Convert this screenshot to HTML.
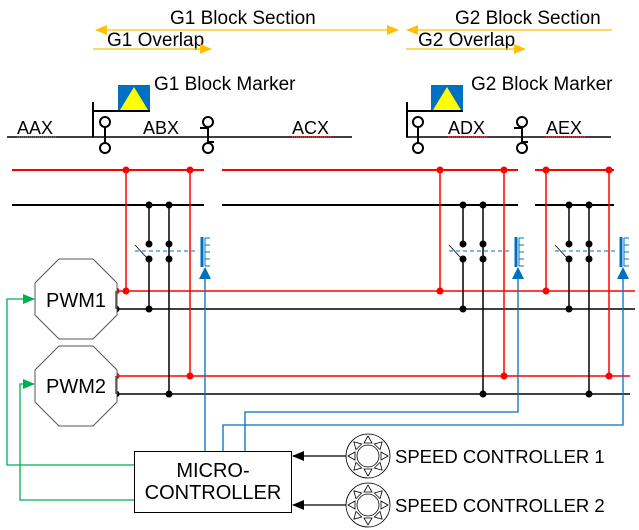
<!DOCTYPE html>
<html><head><meta charset="utf-8"><style>
html,body{margin:0;padding:0;background:#fff}
svg{display:block}
text{font-family:"Liberation Sans",Arial,sans-serif;fill:#000}
</style></head><body>
<svg width="639" height="530" viewBox="0 0 639 530" xmlns="http://www.w3.org/2000/svg">
<defs>
<marker id="ao" markerWidth="12" markerHeight="10" refX="11" refY="5" orient="auto-start-reverse" markerUnits="userSpaceOnUse"><path d="M0,0 L12,5 L0,10 Z" fill="#FFC000"/></marker>
<marker id="ag" markerWidth="12" markerHeight="10" refX="11" refY="5" orient="auto" markerUnits="userSpaceOnUse"><path d="M0,0 L12,5 L0,10 Z" fill="#00B050"/></marker>
<marker id="ab" markerWidth="12" markerHeight="12" refX="11" refY="6" orient="auto" markerUnits="userSpaceOnUse"><path d="M0,0 L12,6 L0,12 Z" fill="#0070C0"/></marker>
<marker id="ak" markerWidth="12" markerHeight="10" refX="11" refY="5" orient="auto" markerUnits="userSpaceOnUse"><path d="M0,0 L12,5 L0,10 Z" fill="#000"/></marker>
</defs>

<!-- Top arrows -->
<text x="170" y="24" font-size="19">G1 Block Section</text>
<line x1="96" y1="30" x2="398" y2="30" stroke="#FFC000" stroke-width="1.3" marker-start="url(#ao)" marker-end="url(#ao)"/>
<text x="107" y="46" font-size="19">G1 Overlap</text>
<line x1="93" y1="49" x2="211" y2="49" stroke="#FFC000" stroke-width="1.3" marker-end="url(#ao)"/>
<text x="455" y="24" font-size="19">G2 Block Section</text>
<line x1="407" y1="30" x2="612" y2="30" stroke="#FFC000" stroke-width="1.3" marker-start="url(#ao)"/>
<text x="418" y="46" font-size="19">G2 Overlap</text>
<line x1="406" y1="49" x2="525" y2="49" stroke="#FFC000" stroke-width="1.3" marker-end="url(#ao)"/>

<!-- markers -->
<text x="154" y="90" font-size="19">G1 Block Marker</text>
<text x="471" y="90" font-size="19">G2 Block Marker</text>
<rect x="118" y="85" width="32" height="26" fill="#0070C0"/>
<polygon points="134,87 120,110 148,110" fill="#FFFF00"/>
<rect x="431" y="85" width="32" height="26" fill="#0070C0"/>
<polygon points="447,87 433,110 461,110" fill="#FFFF00"/>

<!-- track -->
<line x1="7" y1="137" x2="352" y2="137" stroke="#000" stroke-width="1.5"/>
<line x1="406" y1="137" x2="611" y2="137" stroke="#000" stroke-width="1.5"/>
<g stroke="#000" stroke-width="2" fill="#fff">
<path d="M93,102 V137 M93,111 H150" fill="none"/>
<path d="M407,102 V137 M407,111 H463" fill="none"/>
<line x1="105" y1="127" x2="105" y2="143"/><circle cx="105" cy="122" r="5"/><circle cx="105" cy="148" r="5"/>
<line x1="418" y1="127" x2="418" y2="143"/><circle cx="418" cy="122" r="5"/><circle cx="418" cy="148" r="5"/>
<line x1="208" y1="127" x2="208" y2="143"/><circle cx="208" cy="122" r="5"/><circle cx="208" cy="148" r="5"/>
<path d="M200,128 H208 M208,142 H214" fill="none"/>
<line x1="522" y1="127" x2="522" y2="143"/><circle cx="522" cy="122" r="5"/><circle cx="522" cy="148" r="5"/>
<path d="M514,128 H522 M522,142 H528" fill="none"/>
</g>
<g font-size="18">
<text x="17" y="134">AAX</text><text x="143" y="134">ABX</text><text x="292" y="134">ACX</text><text x="448" y="134">ADX</text><text x="546" y="134">AEX</text>
</g>
<g stroke="#e00" stroke-width="1" stroke-dasharray="1,1">
<line x1="17" y1="137" x2="56" y2="137"/><line x1="292" y1="137" x2="332" y2="137"/>
<line x1="448" y1="137" x2="488" y2="137"/><line x1="546" y1="137" x2="585" y2="137"/>
</g>

<!-- rails -->
<g stroke="#FF0000" stroke-width="2">
<line x1="12" y1="170" x2="204" y2="170"/><line x1="222" y1="170" x2="518" y2="170"/><line x1="535" y1="170" x2="614" y2="170"/>
</g>
<g stroke="#000" stroke-width="2">
<line x1="12" y1="205" x2="204" y2="205"/><line x1="222" y1="205" x2="518" y2="205"/><line x1="535" y1="205" x2="614" y2="205"/>
</g>

<!-- PWM bus lines -->
<g stroke-width="1.5">
<line x1="116" y1="291" x2="635" y2="291" stroke="#FF0000"/>
<line x1="116" y1="309" x2="635" y2="309" stroke="#000"/>
<line x1="116" y1="376" x2="630" y2="376" stroke="#FF0000"/>
<line x1="116" y1="394" x2="630" y2="394" stroke="#000"/>
</g>

<!-- verticals -->
<g stroke="#FF0000" stroke-width="1.5">
<line x1="126" y1="170" x2="126" y2="291"/><line x1="190" y1="170" x2="190" y2="376"/>
<line x1="440" y1="170" x2="440" y2="291"/><line x1="504" y1="170" x2="504" y2="376"/>
<line x1="546" y1="170" x2="546" y2="291"/><line x1="609" y1="170" x2="609" y2="376"/>
</g>
<g stroke="#000" stroke-width="1.5">
<line x1="149" y1="205" x2="149" y2="244"/><line x1="149" y1="259" x2="149" y2="309"/>
<line x1="169" y1="205" x2="169" y2="394"/>
<line x1="463" y1="205" x2="463" y2="244"/><line x1="463" y1="259" x2="463" y2="309"/>
<line x1="483" y1="205" x2="483" y2="394"/>
<line x1="569" y1="205" x2="569" y2="244"/><line x1="569" y1="259" x2="569" y2="309"/>
<line x1="589" y1="205" x2="589" y2="394"/>
</g>
<g stroke="#000" stroke-width="0.8">
<line x1="135" y1="245" x2="147" y2="258"/><line x1="449" y1="245" x2="461" y2="258"/><line x1="555" y1="245" x2="567" y2="258"/>
</g>
<g stroke="#0070C0" stroke-width="1" stroke-dasharray="4,3">
<line x1="135" y1="251" x2="198" y2="251"/><line x1="449" y1="251" x2="511" y2="251"/><line x1="555" y1="251" x2="616" y2="251"/>
</g>
<!-- relays -->
<g stroke="#0070C0" fill="none">
<g id="rl"><line x1="202" y1="237" x2="202" y2="267" stroke-width="3"/>
<path d="M205,238 H210 M205,238 V266 M205,245 H210 M205,252 H210 M205,259 H210 M205,266 H210" stroke-width="1"/></g>
<use href="#rl" x="314"/><use href="#rl" x="419"/>
</g>
<g stroke="#0070C0" stroke-width="1.3" fill="none">
<line x1="205" y1="451" x2="205" y2="268" marker-end="url(#ab)"/>
<path d="M245,451 V412 H518 V268" marker-end="url(#ab)"/>
<path d="M223,451 V425 H623 V268" marker-end="url(#ab)"/>
</g>

<!-- dots -->
<g fill="#FF0000">
<circle cx="126" cy="170" r="3.5"/><circle cx="190" cy="170" r="3.5"/><circle cx="440" cy="170" r="3.5"/><circle cx="504" cy="170" r="3.5"/><circle cx="546" cy="170" r="3.5"/><circle cx="609" cy="170" r="3.5"/>
<circle cx="116" cy="291" r="3.5"/><circle cx="126" cy="291" r="3.5"/><circle cx="440" cy="291" r="3.5"/><circle cx="546" cy="291" r="3.5"/>
<circle cx="116" cy="376" r="3.5"/><circle cx="190" cy="376" r="3.5"/><circle cx="504" cy="376" r="3.5"/><circle cx="609" cy="376" r="3.5"/>
</g>
<g fill="#000">
<circle cx="149" cy="205" r="3.5"/><circle cx="169" cy="205" r="3.5"/><circle cx="463" cy="205" r="3.5"/><circle cx="483" cy="205" r="3.5"/><circle cx="569" cy="205" r="3.5"/><circle cx="589" cy="205" r="3.5"/>
<circle cx="149" cy="244" r="3.5"/><circle cx="169" cy="244" r="3.5"/><circle cx="149" cy="259" r="3.5"/><circle cx="169" cy="259" r="3.5"/>
<circle cx="463" cy="244" r="3.5"/><circle cx="483" cy="244" r="3.5"/><circle cx="463" cy="259" r="3.5"/><circle cx="483" cy="259" r="3.5"/>
<circle cx="569" cy="244" r="3.5"/><circle cx="589" cy="244" r="3.5"/><circle cx="569" cy="259" r="3.5"/><circle cx="589" cy="259" r="3.5"/>
<circle cx="116" cy="309" r="3.5"/><circle cx="149" cy="309" r="3.5"/><circle cx="463" cy="309" r="3.5"/><circle cx="569" cy="309" r="3.5"/>
<circle cx="116" cy="394" r="3.5"/><circle cx="169" cy="394" r="3.5"/><circle cx="483" cy="394" r="3.5"/><circle cx="589" cy="394" r="3.5"/>
</g>

<!-- PWM octagons -->
<polygon points="59,259 93,259 117,283 117,315 93,339 59,339 35,315 35,283" fill="#fff" stroke="#555" stroke-width="1"/>
<polygon points="59,346 93,346 117,370 117,402 93,426 59,426 35,402 35,370" fill="#fff" stroke="#555" stroke-width="1"/>
<text x="76" y="307" font-size="20" text-anchor="middle">PWM1</text>
<text x="76" y="393" font-size="20" text-anchor="middle">PWM2</text>
<line x1="116" y1="291" x2="116" y2="309" stroke="#555" stroke-width="1.5"/>
<line x1="116" y1="376" x2="116" y2="394" stroke="#555" stroke-width="1.5"/>

<!-- green -->
<g stroke="#00B050" stroke-width="1.3" fill="none">
<path d="M134,465 H7 V299 H34" marker-end="url(#ag)"/>
<path d="M134,500 H20 V384 H34" marker-end="url(#ag)"/>
</g>

<!-- MC -->
<rect x="134.5" y="451.5" width="157" height="61" fill="#fff" stroke="#000" stroke-width="1"/>
<text x="213" y="477" font-size="20" text-anchor="middle">MICRO-</text>
<text x="213" y="499" font-size="20" text-anchor="middle">CONTROLLER</text>
<line x1="346" y1="456" x2="293" y2="456" stroke="#000" stroke-width="1.3" marker-end="url(#ak)"/>
<line x1="346" y1="505" x2="293" y2="505" stroke="#000" stroke-width="1.3" marker-end="url(#ak)"/>

<!-- speed controllers -->
<g id="s1" transform="translate(368,456)" fill="none" stroke="#000" stroke-width="0.8">
<circle r="22"/><circle r="11"/>
<g id="tri"><polygon points="-4,-13 4,-13 0,-20"/></g>
<use href="#tri" transform="rotate(45)"/><use href="#tri" transform="rotate(90)"/><use href="#tri" transform="rotate(135)"/>
<use href="#tri" transform="rotate(180)"/><use href="#tri" transform="rotate(225)"/><use href="#tri" transform="rotate(270)"/><use href="#tri" transform="rotate(315)"/>
</g>
<use href="#s1" y="49"/>
<text x="395" y="463" font-size="18.5">SPEED CONTROLLER 1</text>
<text x="395" y="512" font-size="18.5">SPEED CONTROLLER 2</text>
</svg>
</body></html>
